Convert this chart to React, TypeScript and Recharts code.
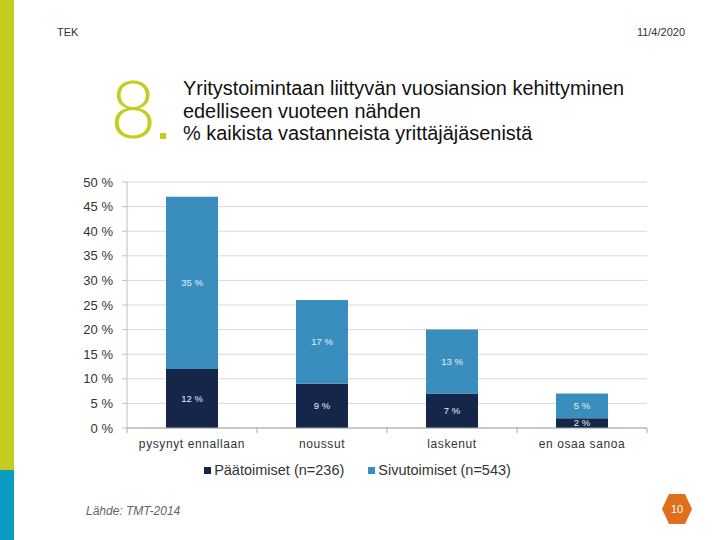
import { BarChart, Bar, XAxis, YAxis, CartesianGrid, Legend, LabelList } from 'recharts'

const categories = ['pysynyt ennallaan', 'noussut', 'laskenut', 'en osaa sanoa']
const paatoimiset = [12, 9, 7, 2]
const sivutoimiset = [35, 17, 13, 5]
const yTicks = [0, 5, 10, 15, 20, 25, 30, 35, 40, 45, 50]

const seriesNames = ['Päätoimiset (n=236)', 'Sivutoimiset (n=543)']
const colors = ['#15264a', '#3a8ebd']

const chartData = categories.map((name, i) => ({
  name,
  paa: paatoimiset[i],
  sivu: sivutoimiset[i],
}))

const font = 'Arial, "Liberation Sans", sans-serif'

const CategoryTick = ({ x, y, payload, index }: any) => {
  const half = payload?.offset ?? 65
  return (
    <g>
      <line x1={x - half} x2={x - half} y1={y - 8} y2={y - 3} stroke="#a6a6a6" />
      {index === categories.length - 1 && (
        <line x1={x + half} x2={x + half} y1={y - 8} y2={y - 3} stroke="#a6a6a6" />
      )}
      <text x={x} y={y + 12} textAnchor="middle" fontSize={12} letterSpacing={0.6} fill="#333" fontFamily={font}>
        {payload.value}
      </text>
    </g>
  )
}

const LegendContent = () => (
  <div style={{ display: 'flex', justifyContent: 'center', gap: 24, fontFamily: font, fontSize: 14.5, color: '#333', paddingLeft: 8, paddingTop: 6 }}>
    {seriesNames.map((n, i) => (
      <div key={n} style={{ display: 'flex', alignItems: 'center', gap: 3 }}>
        <span style={{ width: 7, height: 7, background: colors[i], display: 'inline-block' }} />
        <span>{n}</span>
      </div>
    ))}
  </div>
)

export default function App() {
  return (
    <div style={{ position: 'fixed', left: 0, top: 0, width: 720, height: 540, background: '#fff', fontFamily: font, overflow: 'hidden' }}>
      {/* side stripe */}
      <div style={{ position: 'absolute', left: 0, top: 0, width: 14, height: 470, background: '#c4cd1f' }} />
      <div style={{ position: 'absolute', left: 0, top: 470, width: 14, height: 70, background: '#0a9cc3' }} />

      <div style={{ position: 'absolute', left: 57, top: 26, fontSize: 11, color: '#333' }}>TEK</div>
      <div style={{ position: 'absolute', right: 35, top: 26, fontSize: 11, color: '#333' }}>11/4/2020</div>

      <div style={{ position: 'absolute', left: 110, top: 62, fontSize: 80, lineHeight: '90px', color: '#c4cd1f', fontWeight: 300, fontFamily: 'Lato, sans-serif' }}>8</div>
      <div style={{ position: 'absolute', left: 160, top: 133, width: 6, height: 6, background: '#c4cd1f' }} />
      <div style={{ position: 'absolute', left: 183, top: 77, fontSize: 19.9, lineHeight: '22.5px', color: '#111' }}>
        Yritystoimintaan liittyvän vuosiansion kehittyminen<br />
        edelliseen vuoteen nähden<br />
        % kaikista vastanneista yrittäjäjäsenistä
      </div>

      <div style={{ position: 'absolute', left: 60, top: 170 }}>
        <BarChart width={600} height={318} data={chartData} margin={{ top: 12, right: 13, left: 0, bottom: 0 }}>
          <CartesianGrid vertical={false} stroke="#d9d9d9" />
          <XAxis
            dataKey="name"
            tick={<CategoryTick />}
            tickLine={false}
            axisLine={{ stroke: '#a6a6a6' }}
            interval={0}
            height={28}
          />
          <YAxis
            ticks={yTicks}
            domain={[0, 50]}
            interval={0}
            axisLine={{ stroke: '#bfbfbf' }}
            tickLine={{ stroke: '#bfbfbf' }}
            tickSize={5}
            tickMargin={9}
            width={67}
            tickFormatter={(v: number) => `${v} %`}
            tick={{ fill: '#333', fontSize: 13, fontFamily: font }}
          />
          <Legend verticalAlign="bottom" height={32} content={<LegendContent />} />
          <Bar dataKey="paa" name={seriesNames[0]} stackId="a" fill={colors[0]} barSize={52} isAnimationActive={false}>
            <LabelList dataKey="paa" position="center" fill="#e8eef5" fontSize={9.5} fontFamily={font} formatter={(v: any) => `${v} %`} />
          </Bar>
          <Bar dataKey="sivu" name={seriesNames[1]} stackId="a" fill={colors[1]} barSize={52} isAnimationActive={false}>
            <LabelList dataKey="sivu" position="center" fill="#e8eef5" fontSize={9.5} fontFamily={font} formatter={(v: any) => `${v} %`} />
          </Bar>
        </BarChart>
      </div>

      <div style={{ position: 'absolute', left: 86, top: 504, fontSize: 12, fontStyle: 'italic', color: '#666' }}>Lähde: TMT-2014</div>

      <svg style={{ position: 'absolute', left: 661, top: 493 }} width={32} height={32}>
        <polygon points="8,1 24,1 31,16 24,31 8,31 1,16" fill="#e06f1b" />
        <text x={16} y={20} textAnchor="middle" fontSize={11} fill="#fff" fontFamily={font}>10</text>
      </svg>
    </div>
  )
}
